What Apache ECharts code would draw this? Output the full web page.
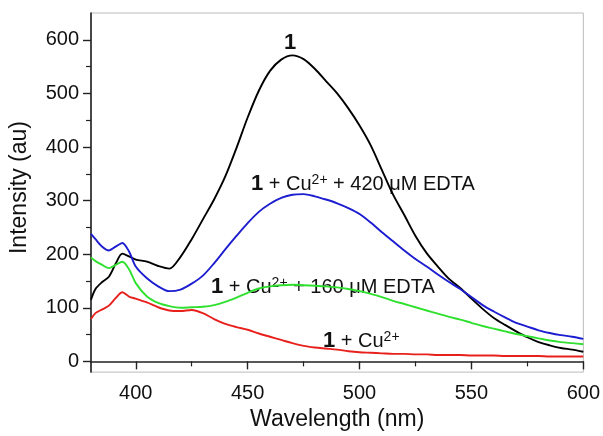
<!DOCTYPE html>
<html>
<head>
<meta charset="utf-8">
<script src="https://cdn.jsdelivr.net/npm/echarts@6/dist/echarts.min.js"></script>
<style>html,body{margin:0;padding:0;background:#fff}#c{width:603px;height:436px}</style>
</head>
<body>
<div id="c"></div>
<script>
const wavelengths = [380,382,385,388,391,394,397,400,405,410,415,420,425,430,435,440,445,450,455,460,465,470,475,480,485,490,495,500,505,510,515,520,525,530,535,540,545,550,555,560,565,570,575,580,585,590,595,600];
const free1 = [115,135,148,158,182,201,196,190,186,178,173,195,228,265,302,345,398,455,505,542,563,571,564,546,523,500,472,440,403,357,311,273,234,202,177,154,137,117,98,81,68,56,45,36,30,25,22,18];
const edta420 = [238,228,214,207,214,221,205,177,155,140,131,134,145,160,183,209,234,258,279,294,305,311,312,308,302,295,286,275,259,241,224,207,191,177,162,148,135,120,105,93,82,72,65,58,53,49,46,42];
const edta160 = [194,187,180,174,180,186,172,146,121,109,103,100,101,102,105,111,119,128,136,140,142,143,142,141,140,138,135,131,126,120,113,107,101,95,89,83,78,72,66,61,56,51,47,43,39,36,34,32];
const cu = [79,90,97,104,118,129,121,117,110,101,95,94,96,90,79,70,64,59,52,46,40,34,29,26,24,22,19,17,16,15,14,14,13,13,12,12,12,11,11,11,10,10,10,10,9,9,9,9];
const yMajor = [0,100,200,300,400,500,600];
const yMinor = [50,150,250,350,450,550];
const xMajor = [400,450,500,550,600];
const xMinor = [425,475,525,575];

const FONT = '"Liberation Sans", Arial, sans-serif';
const pair = arr => wavelengths.map((w,i)=>[w,arr[i]]);
const chart = echarts.init(document.getElementById('c'));
const axisLine = {show:true, lineStyle:{color:'#222', width:1.6}};
const mkSeries = (name, arr, color) => ({
  name, type:'line', data:pair(arr), smooth:0.3, symbol:'none',
  xAxisIndex:0, yAxisIndex:0,
  lineStyle:{color, width:1.9}, itemStyle:{color}
});
const rich = {
  b:{fontWeight:'bold', fontSize:22, fontFamily:FONT, fill:'#111'},
  s:{fontSize:14, fontFamily:FONT, verticalAlign:'top', fill:'#111'}
};
chart.setOption({
  animation:false,
  grid:{left:90, right:19, top:13, bottom:59, show:true, borderColor:'#bbb', borderWidth:1},
  xAxis:[
    {type:'value', min:380, max:600, position:'bottom',
     name:'Wavelength (nm)', nameLocation:'middle', nameGap:31,
     nameTextStyle:{fontSize:23, fontFamily:FONT, color:'#111'},
     axisLine, splitLine:{show:false},
     axisTick:{show:true, length:8, customValues:xMajor, lineStyle:{color:'#222', width:1.4}},
     axisLabel:{customValues:xMajor, fontSize:20, fontFamily:FONT, color:'#111', margin:11}},
    {type:'value', min:380, max:600, position:'bottom',
     axisLine:{show:false}, splitLine:{show:false},
     axisTick:{show:true, length:5, customValues:xMinor, lineStyle:{color:'#222', width:1.2}},
     axisLabel:{show:false}}
  ],
  yAxis:[
    {type:'value', min:-20, max:650, position:'left',
     name:'Intensity (au)', nameLocation:'middle', nameGap:60,
     nameTextStyle:{fontSize:23, fontFamily:FONT, color:'#111', padding:[0,0,0,10]},
     axisLine, splitLine:{show:false},
     axisTick:{show:true, length:8, customValues:yMajor, lineStyle:{color:'#222', width:1.4}},
     axisLabel:{customValues:yMajor, fontSize:20, fontFamily:FONT, color:'#111', margin:12}},
    {type:'value', min:-20, max:650, position:'left',
     axisLine:{show:false}, splitLine:{show:false},
     axisTick:{show:true, length:5, customValues:yMinor, lineStyle:{color:'#222', width:1.2}},
     axisLabel:{show:false}}
  ],
  series:[
    mkSeries('1', free1, '#000000'),
    mkSeries('1 + Cu2+ + 420 uM EDTA', edta420, '#1c1cd0'),
    mkSeries('1 + Cu2+ + 160 uM EDTA', edta160, '#2fe02f'),
    mkSeries('1 + Cu2+', cu, '#e8201c')
  ],
  graphic:[
    {type:'text', x:290, y:43, style:{text:'1', fontSize:22, fontWeight:'bold', fontFamily:FONT, fill:'#111', align:'center', verticalAlign:'middle'}},
    {type:'text', x:251, y:184, style:{text:'{b|1} + Cu{s|2+} + 420 μM EDTA', fontSize:20, fontFamily:FONT, fill:'#111', verticalAlign:'middle', rich}},
    {type:'text', x:211, y:287, style:{text:'{b|1} + Cu{s|2+} + 160 μM EDTA', fontSize:20, fontFamily:FONT, fill:'#111', verticalAlign:'middle', rich}},
    {type:'text', x:323, y:341, style:{text:'{b|1} + Cu{s|2+}', fontSize:20, fontFamily:FONT, fill:'#111', verticalAlign:'middle', rich}}
  ]
});
</script>
</body>
</html>
